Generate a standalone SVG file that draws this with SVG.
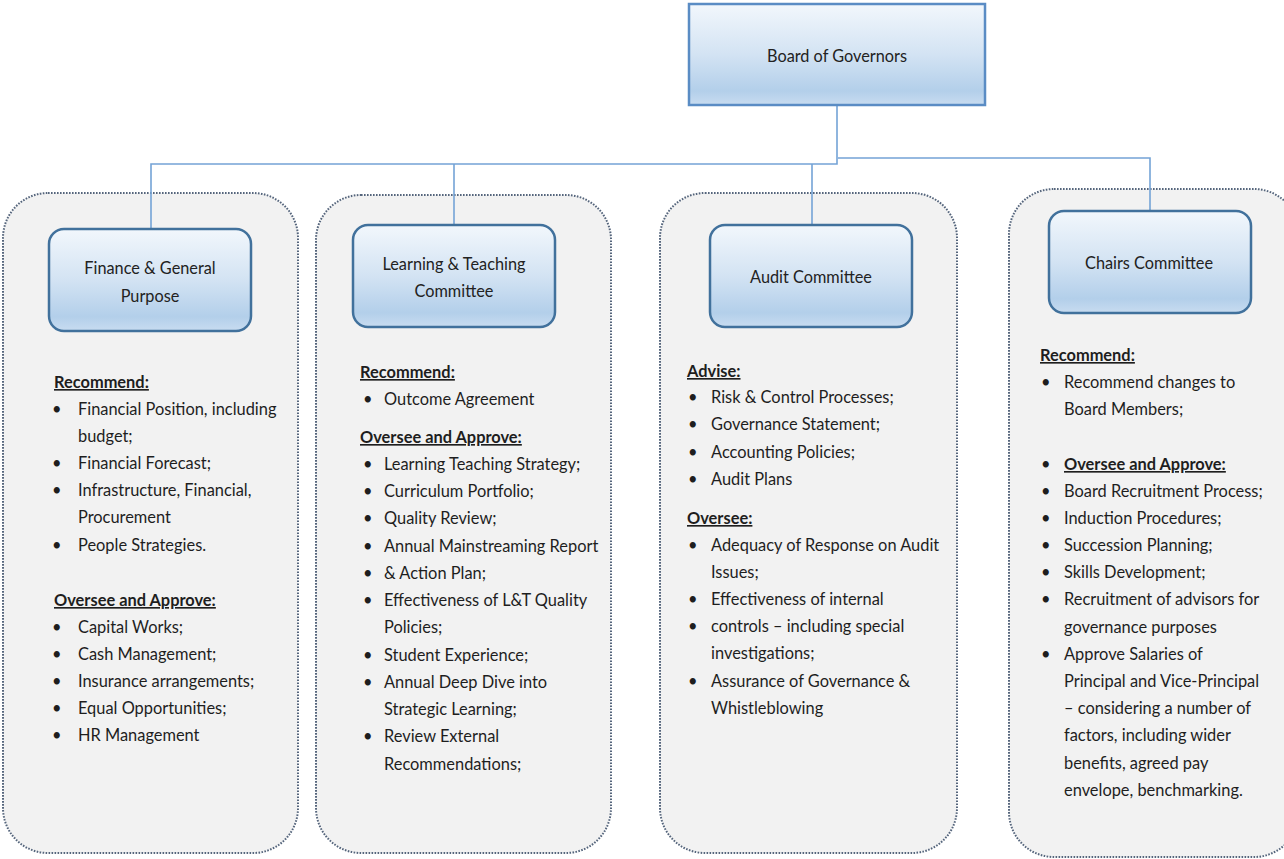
<svg xmlns="http://www.w3.org/2000/svg" width="1284" height="859" viewBox="0 0 1284 859">
  <defs>
    <linearGradient id="boxFill" x1="0" y1="0" x2="0" y2="1">
      <stop offset="0" stop-color="#f2f7fc"/>
      <stop offset="0.5" stop-color="#d3e3f3"/>
      <stop offset="0.86" stop-color="#b3cfea"/>
      <stop offset="1" stop-color="#c8dcf0"/>
    </linearGradient>
    <style>
      .panel { fill: #f2f2f2; stroke: #55657c; stroke-width: 2; stroke-dasharray: 1.6 1.4; }
      .box { fill: url(#boxFill); stroke: #41719c; stroke-width: 2.5; }
      .board { fill: url(#boxFill); stroke: #5a8cc4; stroke-width: 2.5; }
      .wire { fill: none; stroke: #74a3d6; stroke-width: 1.6; }
      .label { font-family: Lato, "Liberation Sans", sans-serif; font-size: 16.3px; fill: #222; text-anchor: middle; }
      .t { font-family: Lato, "Liberation Sans", sans-serif; font-size: 16.4px; fill: #1e1e1e; }
      .h { font-weight: bold; text-decoration: underline; }
    </style>
  </defs>
  <rect width="1284" height="859" fill="#ffffff"/>

  <!-- committee panels -->
  <g id="panels">
    <rect class="panel" x="3" y="193" width="295" height="660" rx="45"/>
    <rect class="panel" x="316" y="195" width="295" height="658" rx="45"/>
    <rect class="panel" x="660" y="193" width="297" height="660" rx="45"/>
    <rect class="panel" x="1009" y="189" width="290" height="668" rx="45"/>
  </g>

  <!-- connectors -->
  <g id="connectors">
    <path class="wire" d="M837 105 V164 H151 V229"/>
    <path class="wire" d="M454 164 V225"/>
    <path class="wire" d="M812 164 V225"/>
    <path class="wire" d="M838 158 H1150 V211"/>
  </g>

  <g id="board">
    <rect class="board" x="689" y="4" width="296" height="101"/>
    <text class="label" x="837" y="62">Board of Governors</text>
  </g>

  <g id="finance">
    <rect class="box" x="49" y="229" width="202" height="102" rx="15"/>
    <text class="label" x="150" y="274">Finance &amp; General</text>
    <text class="label" x="150" y="302">Purpose</text>
    <text class="t h" x="54" y="388">Recommend:</text>
    <g class="t">
      <text x="52" y="415">•</text><text x="78" y="415">Financial Position, including</text>
      <text x="78" y="442">budget;</text>
      <text x="52" y="469">•</text><text x="78" y="469">Financial Forecast;</text>
      <text x="52" y="496">•</text><text x="78" y="496">Infrastructure, Financial,</text>
      <text x="78" y="523">Procurement</text>
      <text x="52" y="551">•</text><text x="78" y="551">People Strategies.</text>
    </g>
    <text class="t h" x="54" y="606">Oversee and Approve:</text>
    <g class="t">
      <text x="52" y="633">•</text><text x="78" y="633">Capital Works;</text>
      <text x="52" y="660">•</text><text x="78" y="660">Cash Management;</text>
      <text x="52" y="687">•</text><text x="78" y="687">Insurance arrangements;</text>
      <text x="52" y="714">•</text><text x="78" y="714">Equal Opportunities;</text>
      <text x="52" y="741">•</text><text x="78" y="741">HR Management</text>
    </g>
  </g>

  <g id="learning">
    <rect class="box" x="353" y="225" width="202" height="102" rx="15"/>
    <text class="label" x="454" y="270">Learning &amp; Teaching</text>
    <text class="label" x="454" y="297">Committee</text>
    <text class="t h" x="360" y="378">Recommend:</text>
    <g class="t">
      <text x="363" y="405">•</text><text x="384" y="405">Outcome Agreement</text>
    </g>
    <text class="t h" x="360" y="443">Oversee and Approve:</text>
    <g class="t">
      <text x="363" y="470">•</text><text x="384" y="470">Learning Teaching Strategy;</text>
      <text x="363" y="497">•</text><text x="384" y="497">Curriculum Portfolio;</text>
      <text x="363" y="524">•</text><text x="384" y="524">Quality Review;</text>
      <text x="363" y="552">•</text><text x="384" y="552">Annual Mainstreaming Report</text>
      <text x="363" y="579">•</text><text x="384" y="579">&amp; Action Plan;</text>
      <text x="363" y="606">•</text><text x="384" y="606">Effectiveness of L&amp;T Quality</text>
      <text x="384" y="633">Policies;</text>
      <text x="363" y="661">•</text><text x="384" y="661">Student Experience;</text>
      <text x="363" y="688">•</text><text x="384" y="688">Annual Deep Dive into</text>
      <text x="384" y="715">Strategic Learning;</text>
      <text x="363" y="742">•</text><text x="384" y="742">Review External</text>
      <text x="384" y="770">Recommendations;</text>
    </g>
  </g>

  <g id="audit">
    <rect class="box" x="710" y="225" width="202" height="102" rx="15"/>
    <text class="label" x="811" y="283">Audit Committee</text>
    <text class="t h" x="687" y="377">Advise:</text>
    <g class="t">
      <text x="688" y="403">•</text><text x="711" y="403">Risk &amp; Control Processes;</text>
      <text x="688" y="430">•</text><text x="711" y="430">Governance Statement;</text>
      <text x="688" y="458">•</text><text x="711" y="458">Accounting Policies;</text>
      <text x="688" y="485">•</text><text x="711" y="485">Audit Plans</text>
    </g>
    <text class="t h" x="687" y="524">Oversee:</text>
    <g class="t">
      <text x="688" y="551">•</text><text x="711" y="551">Adequacy of Response on Audit</text>
      <text x="711" y="578">Issues;</text>
      <text x="688" y="605">•</text><text x="711" y="605">Effectiveness of internal</text>
      <text x="688" y="632">•</text><text x="711" y="632">controls – including special</text>
      <text x="711" y="659">investigations;</text>
      <text x="688" y="687">•</text><text x="711" y="687">Assurance of Governance &amp;</text>
      <text x="711" y="714">Whistleblowing</text>
    </g>
  </g>

  <g id="chairs">
    <rect class="box" x="1049" y="211" width="202" height="102" rx="15"/>
    <text class="label" x="1149" y="269">Chairs Committee</text>
    <text class="t h" x="1040" y="361">Recommend:</text>
    <g class="t">
      <text x="1041" y="388">•</text><text x="1064" y="388">Recommend changes to</text>
      <text x="1064" y="415">Board Members;</text>
      <text x="1041" y="470">•</text>
    </g>
    <text class="t h" x="1064" y="470">Oversee and Approve:</text>
    <g class="t">
      <text x="1041" y="497">•</text><text x="1064" y="497">Board Recruitment Process;</text>
      <text x="1041" y="524">•</text><text x="1064" y="524">Induction Procedures;</text>
      <text x="1041" y="551">•</text><text x="1064" y="551">Succession Planning;</text>
      <text x="1041" y="578">•</text><text x="1064" y="578">Skills Development;</text>
      <text x="1041" y="605">•</text><text x="1064" y="605">Recruitment of advisors for</text>
      <text x="1064" y="633">governance purposes</text>
      <text x="1041" y="660">•</text><text x="1064" y="660">Approve Salaries of</text>
      <text x="1064" y="687">Principal and Vice-Principal</text>
      <text x="1064" y="714">– considering a number of</text>
      <text x="1064" y="741">factors, including wider</text>
      <text x="1064" y="769">benefits, agreed pay</text>
      <text x="1064" y="796">envelope, benchmarking.</text>
    </g>
  </g>
</svg>
